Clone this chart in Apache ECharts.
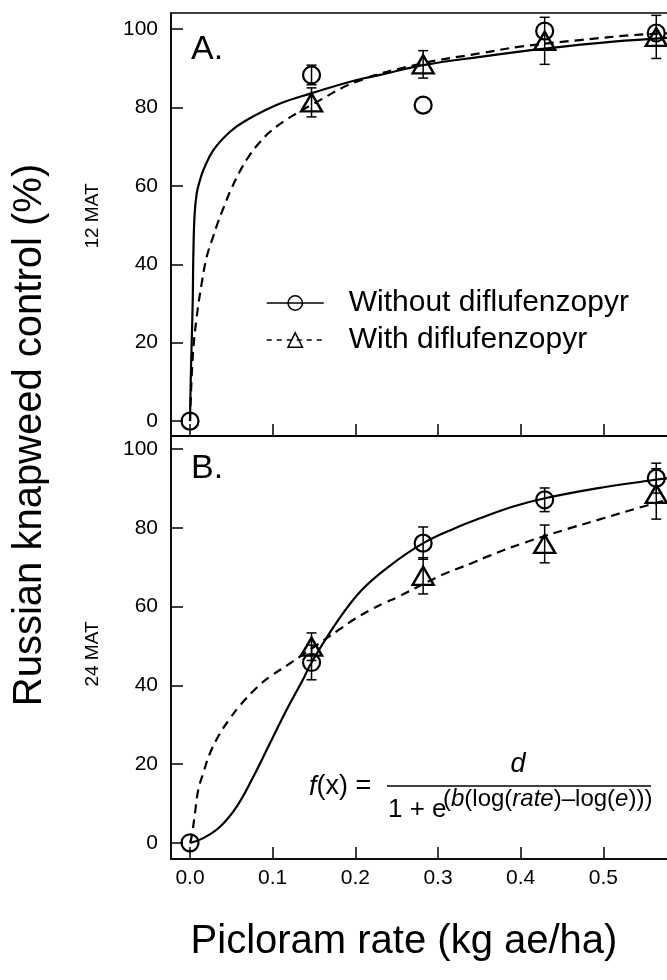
<!DOCTYPE html>
<html>
<head>
<meta charset="UTF-8">
<title>Picloram rate - Russian knapweed control</title>
<script src="https://cdn.jsdelivr.net/npm/echarts@6/dist/echarts.min.js"></script>
<style>
    html, body {margin: 0; padding: 0; background: #fff;}
    #main {width: 667px; height: 980px;}
</style>
</head>
<body>
<div id="main"></div>
<script>
    // picloram rates (kg ae/ha) of the observed means
    var rates = [0, 0.147, 0.282, 0.429, 0.564];

    // panel A, 12 MAT
    var aWithout = [0, 88.3, 80.6, 99.5, 99];
    var aWithoutErr = [0, 2.5, 0, 0, 0];
    var aWith = [null, 81.3, 91, 97, 98];
    var aWithErr = [0, 3.7, 3.5, 6, 5.5];

    // panel B, 24 MAT
    var bWithout = [0, 45.8, 76.1, 87.1, 92.6];
    var bWithoutErr = [0, 4.4, 4.1, 3, 3.8];
    var bWith = [null, 49.8, 67.8, 75.9, 88.6];
    var bWithErr = [0, 3.5, 4.6, 4.8, 6.4];

    // fitted curves, points
    var aFitWithoutX = [0, 0.0008, 0.002, 0.0033, 0.004, 0.0055, 0.0081, 0.0121, 0.0161, 0.0282, 0.0484, 0.0686, 0.1089, 0.1463, 0.2015, 0.2297, 0.282, 0.3507, 0.429, 0.512, 0.5794];
    var aFitWithoutY = [0, 9.7, 19.8, 30.9, 42, 52.5, 58.1, 61.5, 64.0, 69.1, 73.8, 76.8, 81.0, 83.6, 87.0, 88.3, 90.8, 92.9, 95.0, 96.8, 97.8];
    var aFitWithX = [0, 0.0033, 0.0081, 0.0141, 0.0202, 0.0282, 0.0343, 0.0403, 0.0484, 0.0605, 0.0726, 0.0847, 0.0968, 0.1129, 0.129, 0.1463, 0.2015, 0.28, 0.3507, 0.399, 0.4716, 0.544, 0.5794];
    var aFitWithY = [0, 16.4, 26.6, 35.1, 41.9, 47.2, 51.0, 54.3, 58.5, 63.8, 68.0, 71.2, 73.8, 76.4, 78.5, 80.6, 86.6, 91.2, 93.8, 95.5, 97.2, 98.6, 98.9];
    var bFitWithoutX = [0, 0.0161, 0.0363, 0.0565, 0.0766, 0.0967, 0.1169, 0.137, 0.147, 0.1794, 0.2077, 0.24, 0.2822, 0.3205, 0.3508, 0.391, 0.4294, 0.492, 0.5564, 0.5794];
    var bFitWithoutY = [0, 1.2, 4.1, 9.2, 16.8, 25.3, 33.8, 41.6, 45.8, 56.6, 64.2, 70.1, 76.1, 79.9, 82.4, 85.4, 87.5, 90.0, 92.0, 92.6];
    var bFitWithX = [0, 0.002, 0.006, 0.010, 0.016, 0.0242, 0.0363, 0.0484, 0.0605, 0.0806, 0.0967, 0.117, 0.133, 0.149, 0.1794, 0.1996, 0.2177, 0.2339, 0.252, 0.3044, 0.3407, 0.361, 0.403, 0.4597, 0.5, 0.54, 0.5794];
    var bFitWithY = [0, 1.6, 7.5, 13.5, 17.7, 22.8, 27.8, 31.6, 34.9, 39.4, 42.2, 45.0, 47.3, 49.6, 54.0, 56.9, 59.1, 60.8, 62.5, 68.0, 71.0, 72.8, 76.1, 79.9, 82.4, 84.9, 87.2];

    var xTicks = [0, 0.1, 0.2, 0.3, 0.4, 0.5];
    var yTicks = [0, 20, 40, 60, 80, 100];

    var FONT = 'Liberation Sans, Arial, Helvetica, sans-serif';
    var INK = '#000';

    function pairs(xs, ys) {
        var out = [];
        for (var i = 0; i < xs.length; i++) {
            if (ys[i] !== null) out.push([xs[i], ys[i]]);
        }
        return out;
    }

    function bars(ys, errs) {
        var out = [];
        for (var i = 0; i < rates.length; i++) {
            if (ys[i] !== null && errs[i] > 0) out.push([rates[i], ys[i] - errs[i], ys[i] + errs[i]]);
        }
        return out;
    }

    // error bar with caps
    function renderErrorBar(params, api) {
        var hi = api.coord([api.value(0), api.value(2)]);
        var lo = api.coord([api.value(0), api.value(1)]);
        var half = 5;
        var style = {stroke: INK, lineWidth: 1.5};
        return {
            type: 'group',
            children: [
                {type: 'line', shape: {x1: hi[0], y1: hi[1], x2: lo[0], y2: lo[1]}, style: style},
                {type: 'line', shape: {x1: hi[0] - half, y1: hi[1], x2: hi[0] + half, y2: hi[1]}, style: style},
                {type: 'line', shape: {x1: lo[0] - half, y1: lo[1], x2: lo[0] + half, y2: lo[1]}, style: style}
            ]
        };
    }

    function xAxis(gridIndex, showLabels) {
        return {
            type: 'value', gridIndex: gridIndex,
            min: -0.023, max: 0.5794,
            axisLine: {show: true, onZero: false, lineStyle: {color: INK, width: 1.5}},
            axisTick: {show: true, inside: true, length: 12, customValues: xTicks, lineStyle: {color: INK, width: 1.5}},
            axisLabel: {
                show: showLabels, customValues: xTicks, margin: 9,
                fontSize: 21, fontFamily: FONT, color: INK,
                formatter: function (v) { return v.toFixed(1); }
            },
            splitLine: {show: false}
        };
    }

    function yAxis(gridIndex, min, max) {
        return {
            type: 'value', gridIndex: gridIndex,
            min: min, max: max,
            axisLine: {show: true, onZero: false, lineStyle: {color: INK, width: 1.5}},
            axisTick: {show: true, inside: true, length: 12, customValues: yTicks, lineStyle: {color: INK, width: 1.5}},
            axisLabel: {customValues: yTicks, margin: 13, fontSize: 21, fontFamily: FONT, color: INK},
            splitLine: {show: false}
        };
    }

    function panelSeries(idx, fitWoX, fitWoY, fitWX, fitWY, wo, woErr, w, wErr) {
        return [
            {
                name: 'Without diflufenzopyr', type: 'line', xAxisIndex: idx, yAxisIndex: idx,
                data: pairs(fitWoX, fitWoY), smooth: 0.4,
                symbol: 'circle', showSymbol: false, silent: true,
                lineStyle: {color: INK, width: 2.2}, itemStyle: {color: INK}, z: 2
            },
            {
                name: 'With diflufenzopyr', type: 'line', xAxisIndex: idx, yAxisIndex: idx,
                data: pairs(fitWX, fitWY), smooth: 0.4,
                symbol: 'triangle', showSymbol: false, silent: true,
                lineStyle: {color: INK, width: 2.2, type: [9, 6]}, itemStyle: {color: INK}, z: 2
            },
            {
                type: 'custom', xAxisIndex: idx, yAxisIndex: idx, clip: true,
                renderItem: renderErrorBar, data: bars(wo, woErr), z: 3
            },
            {
                type: 'custom', xAxisIndex: idx, yAxisIndex: idx, clip: true,
                renderItem: renderErrorBar, data: bars(w, wErr), z: 3
            },
            {
                name: 'obs without', type: 'scatter', xAxisIndex: idx, yAxisIndex: idx,
                data: pairs(rates, wo), symbol: 'circle', symbolSize: 17,
                itemStyle: {color: 'rgba(0,0,0,0)', borderColor: INK, borderWidth: 2.2, opacity: 1}, z: 4
            },
            {
                name: 'obs with', type: 'scatter', xAxisIndex: idx, yAxisIndex: idx,
                data: pairs(rates, w), symbol: 'triangle', symbolSize: [21, 18],
                itemStyle: {color: 'rgba(0,0,0,0)', borderColor: INK, borderWidth: 2.4, opacity: 1}, z: 4
            }
        ];
    }

    var myChart = echarts.init(document.getElementById('main'), null, {renderer: 'canvas'});

    var option = {
        backgroundColor: '#fff',
        animation: false,
        grid: [
            {left: 171, top: 13, width: 498, height: 423, show: true, borderColor: INK, borderWidth: 1.5, outerBoundsMode: 'none'},
            {left: 171, top: 436, width: 498, height: 423, show: true, borderColor: INK, borderWidth: 1.5, outerBoundsMode: 'none'}
        ],
        xAxis: [xAxis(0, false), xAxis(1, true)],
        yAxis: [yAxis(0, -3.8, 104.1), yAxis(1, -4.1, 103.3)],
        legend: {
            orient: 'vertical', left: 261, top: 283,
            itemWidth: 57, itemHeight: 18, itemGap: 7,
            textStyle: {fontSize: 30, fontFamily: FONT, color: INK, padding: [0, 0, 0, 20]},
            itemStyle: {color: 'rgba(0,0,0,0)', borderColor: INK, borderWidth: 1.5},
            data: [
                {name: 'Without diflufenzopyr', lineStyle: {width: 1.5, type: 'solid'}},
                {name: 'With diflufenzopyr', lineStyle: {width: 1.5, type: [5, 5]}}
            ],
            selectedMode: false
        },
        graphic: [
            // axis titles
            {type: 'text', x: 30, y: 435, rotation: Math.PI / 2,
                style: {text: 'Russian knapweed control (%)', fontSize: 40, fontFamily: FONT, fill: INK, align: 'center', verticalAlign: 'middle'}},
            {type: 'text', x: 404, y: 942,
                style: {text: 'Picloram rate (kg ae/ha)', fontSize: 40, fontFamily: FONT, fill: INK, align: 'center', verticalAlign: 'middle'}},
            {type: 'text', x: 93, y: 216, rotation: Math.PI / 2,
                style: {text: '12 MAT', fontSize: 19, fontFamily: FONT, fill: INK, align: 'center', verticalAlign: 'middle'}},
            {type: 'text', x: 93, y: 654, rotation: Math.PI / 2,
                style: {text: '24 MAT', fontSize: 19, fontFamily: FONT, fill: INK, align: 'center', verticalAlign: 'middle'}},
            // panel letters
            {type: 'text', x: 191, y: 50,
                style: {text: 'A.', fontSize: 34, fontFamily: FONT, fill: INK, align: 'left', verticalAlign: 'middle'}},
            {type: 'text', x: 191, y: 469,
                style: {text: 'B.', fontSize: 34, fontFamily: FONT, fill: INK, align: 'left', verticalAlign: 'middle'}},
            // model formula
            {type: 'text', x: 309, y: 787,
                style: {text: '{i|f}(x) =', fontSize: 27, fontFamily: FONT, fill: INK, align: 'left', verticalAlign: 'middle',
                    rich: {i: {fontStyle: 'italic', fontSize: 27, fontFamily: FONT}}}},
            {type: 'line', shape: {x1: 387, y1: 786, x2: 651, y2: 786}, style: {stroke: INK, lineWidth: 1.5}},
            {type: 'text', x: 518, y: 764,
                style: {text: 'd', fontSize: 27, fontStyle: 'italic', fontFamily: FONT, fill: INK, align: 'center', verticalAlign: 'middle'}},
            {type: 'text', x: 388, y: 810,
                style: {text: '1 + e', fontSize: 26, fontFamily: FONT, fill: INK, align: 'left', verticalAlign: 'middle'}},
            {type: 'text', x: 443, y: 799,
                style: {text: '({i|b}(log({i|rate})\u2013log({i|e})))', fontSize: 24, fontFamily: FONT, fill: INK, align: 'left', verticalAlign: 'middle',
                    rich: {i: {fontStyle: 'italic', fontSize: 24, fontFamily: FONT}}}}
        ],
        series: [].concat(
            panelSeries(0, aFitWithoutX, aFitWithoutY, aFitWithX, aFitWithY, aWithout, aWithoutErr, aWith, aWithErr),
            panelSeries(1, bFitWithoutX, bFitWithoutY, bFitWithX, bFitWithY, bWithout, bWithoutErr, bWith, bWithErr)
        )
    };

    myChart.setOption(option);
</script>
</body>
</html>
